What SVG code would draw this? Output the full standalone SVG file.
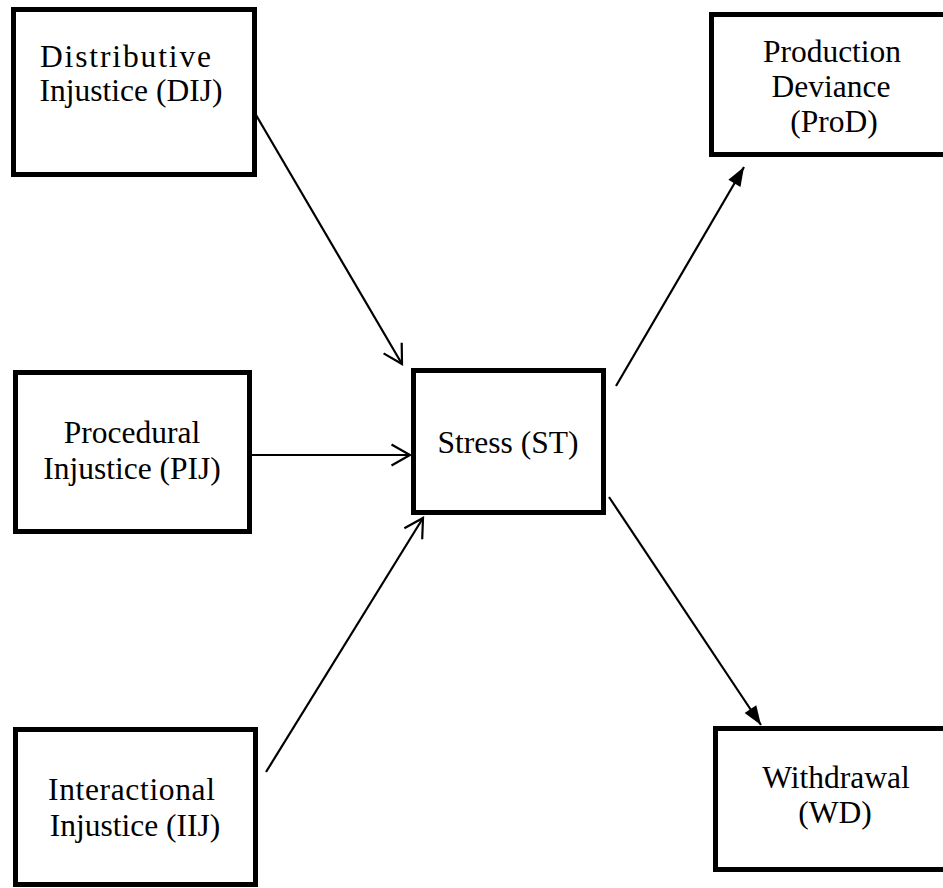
<svg xmlns="http://www.w3.org/2000/svg" width="943" height="888" viewBox="0 0 943 888">
<style>
.box{fill:#fff;stroke:#000;stroke-width:5}
.lbl{font-family:"Liberation Serif","Times New Roman",serif;font-size:31.5px;fill:#000;text-anchor:middle}
.edge{stroke:#000;stroke-width:2.2;fill:none}
</style>
<defs>
<marker id="open" markerUnits="userSpaceOnUse" markerWidth="26" markerHeight="26" viewBox="-22 -13 26 26" refX="0" refY="0" orient="auto">
<path d="M-18.5,-10.5 L0,0 L-18.5,10.5" fill="none" stroke="#000" stroke-width="2.2"/>
</marker>
<marker id="filled" markerUnits="userSpaceOnUse" markerWidth="26" markerHeight="26" viewBox="-22 -13 26 26" refX="0" refY="0" orient="auto">
<path d="M0,0 L-19,-7 L-19,7 Z" fill="#000"/>
</marker>
</defs>
<rect width="943" height="888" fill="#fff"/>
<g id="connectors">
<line class="edge" x1="256" y1="115" x2="402" y2="364" marker-end="url(#open)"/>
<line class="edge" x1="252" y1="455" x2="410" y2="455" marker-end="url(#open)"/>
<line class="edge" x1="266" y1="772" x2="423" y2="518" marker-end="url(#open)"/>
<line class="edge" x1="616" y1="386" x2="744" y2="167" marker-end="url(#filled)"/>
<line class="edge" x1="609" y1="497" x2="761" y2="725" marker-end="url(#filled)"/>
</g>
<g id="DIJ">
<rect class="box" x="13.5" y="9.5" width="241" height="165"/>
<text class="lbl" x="40" y="67" style="text-anchor:start" textLength="171" lengthAdjust="spacing">Distributive</text>
<text class="lbl" x="131" y="101">Injustice (DIJ)</text>
</g>
<g id="PIJ">
<rect class="box" x="15.5" y="372.5" width="234" height="159"/>
<text class="lbl" x="132" y="443">Procedural</text>
<text class="lbl" x="132" y="479">Injustice (PIJ)</text>
</g>
<g id="IIJ">
<rect class="box" x="15.5" y="729.5" width="240" height="155"/>
<text class="lbl" x="48" y="800" style="text-anchor:start" textLength="167" lengthAdjust="spacing">Interactional</text>
<text class="lbl" x="135" y="836">Injustice (IIJ)</text>
</g>
<g id="ST">
<rect class="box" x="413.5" y="370.5" width="190" height="142"/>
<text class="lbl" x="508" y="453">Stress (ST)</text>
</g>
<g id="ProD">
<rect class="box" x="711.5" y="14.5" width="240" height="140"/>
<text class="lbl" x="832" y="62">Production</text>
<text class="lbl" x="831" y="97">Deviance</text>
<text class="lbl" x="834" y="132">(ProD)</text>
</g>
<g id="WD">
<rect class="box" x="715.5" y="728.5" width="240" height="141"/>
<text class="lbl" x="836" y="788">Withdrawal</text>
<text class="lbl" x="835" y="823">(WD)</text>
</g>
</svg>
